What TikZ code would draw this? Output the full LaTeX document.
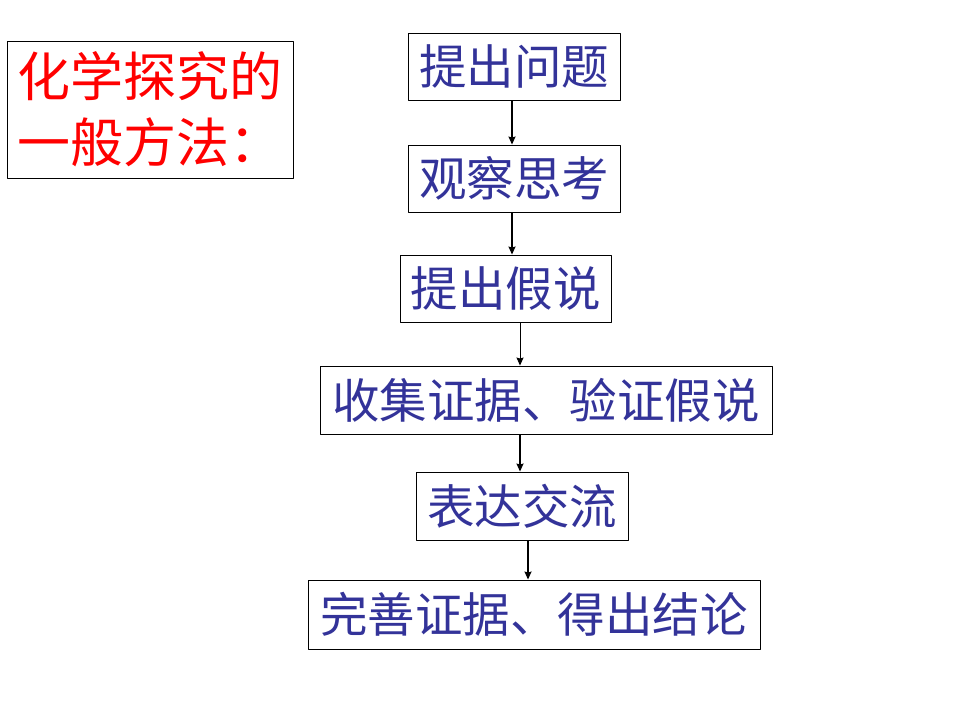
\documentclass[tikz,border=0pt]{standalone}
\usepackage{fontspec}
\usetikzlibrary{arrows.meta}
\setmainfont{Noto Sans CJK SC}
\definecolor{stepblue}{RGB}{51,51,153}
\begin{document}
\begin{tikzpicture}[x=1pt,y=-1pt, line join=round, >={Stealth[length=8pt,width=7pt,inset=1pt]},
	stepbox/.style={draw=black, line width=0.9pt, inner sep=0pt, minimum height=67pt,
		text=stepblue, font=\fontsize{47.5}{50}\selectfont},
	arr/.style={->, line width=1.4pt}]
	\useasboundingbox (0,0) rectangle (960,720);
	\node[draw=black, line width=0.9pt, minimum width=286pt, minimum height=137pt, text=red, align=left,
		font=\fontsize{53}{66}\selectfont] (title) at (150,109.5) {化学探究的\\一般方法：};
	\node[stepbox, minimum width=212pt] (b1) at (514,66.5) {提出问题};
	\node[stepbox, minimum width=212pt] (b2) at (514,178.5) {观察思考};
	\node[stepbox, minimum width=211pt] (b3) at (505.5,288.5) {提出假说};
	\node[stepbox, minimum width=452pt, minimum height=68pt] (b4) at (546,400) {收集证据、验证假说};
	\node[stepbox, minimum width=212pt, minimum height=68pt] (b5) at (522,506) {表达交流};
	\node[stepbox, minimum width=452pt, minimum height=69pt] (b6) at (534,614.5) {完善证据、得出结论};
	\draw[arr] (b1.south -| 512,0) -- (b2.north -| 512,0);
	\draw[arr] (b2.south -| 512,0) -- (b3.north -| 512,0);
	\draw[arr, line width=1pt] (b3.south -| 520,0) -- (b4.north -| 520,0);
	\draw[arr] (b4.south -| 520,0) -- (b5.north -| 520,0);
	\draw[arr] (b5.south -| 528,0) -- (b6.north -| 528,0);
\end{tikzpicture}
\end{document}
